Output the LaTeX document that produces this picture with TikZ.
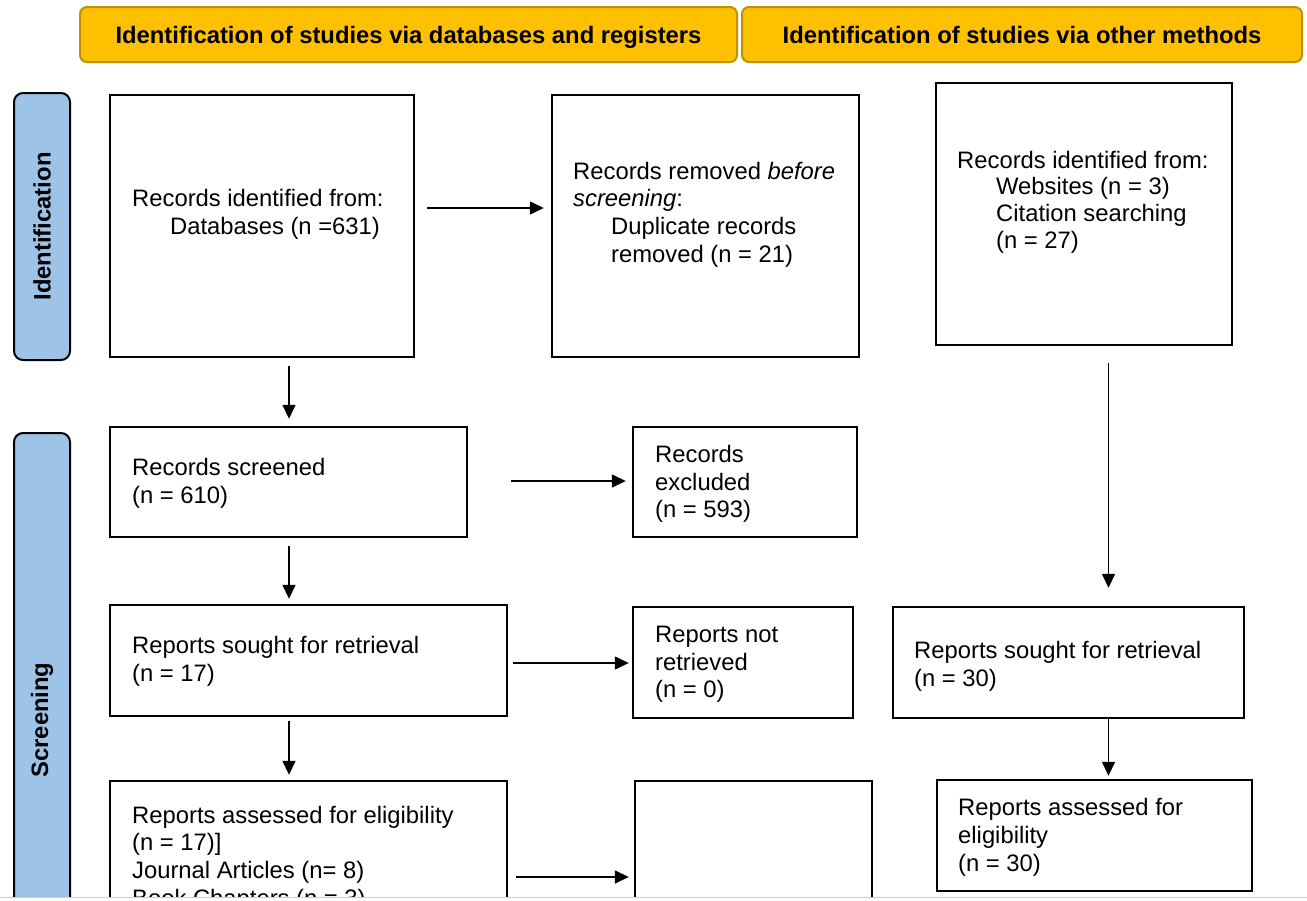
\documentclass[tikz,border=0pt]{standalone}
\usepackage{fontspec}
\setmainfont{Liberation Sans}
\usepackage{tikz}
\usetikzlibrary{arrows.meta, positioning}
\definecolor{headfill}{RGB}{255,192,0}
\definecolor{headline}{RGB}{191,144,0}
\definecolor{phasefill}{RGB}{157,195,230}
\definecolor{cutline}{RGB}{205,205,205}

\begin{document}
\begin{tikzpicture}[x=1pt, y=-1pt,
    every node/.style={font=\fontsize{23.8}{27.7}\selectfont},
    header/.style={draw=headline, fill=headfill, line width=2pt, rounded corners=7pt, inner sep=0pt, text height=20pt, text depth=2pt, font=\fontsize{23.8}{27.7}\selectfont\bfseries},
    phase/.style={draw=black, fill=phasefill, line width=2pt, rounded corners=9pt, inner sep=0pt, rotate=90, font=\fontsize{23.8}{27.7}\selectfont\bfseries},
    box/.style={draw=black, line width=2.4pt, inner sep=0pt},
    txt/.style={anchor=west, align=left, inner sep=0pt},
    arrow/.style={-{Triangle[length=14pt, width=13pt]}, line width=1.5pt}]
    \useasboundingbox (0,0) rectangle (1307,900);
    \begin{scope}
    \clip (0,0) rectangle (1307,896.5);
    % Headers
    \node[header, minimum width=657, minimum height=55] (dbhead) at (408.5,34.5) {Identification of studies via databases and registers};
    \node[header, minimum width=560, minimum height=55] (otherhead) at (1022,34.5) {Identification of studies via other methods};

    % Phases
    \node[phase, minimum width=267, minimum height=56] (idphase) at (42,226.5) {Identification};
    \node[phase, minimum width=574, minimum height=56] (scrphase) at (42,720) {Screening};

    % Boxes
    \node[box, minimum width=304, minimum height=262] (dbrec) at (262,226) {};
    \node[box, minimum width=307, minimum height=262] (dupl) at (705.5,226) {};
    \node[box, minimum width=296, minimum height=262] (otherrec) at (1084,214) {};
    \node[box, minimum width=357, minimum height=110] (screened) at (288.5,482) {};
    \node[box, minimum width=224, minimum height=110] (excl) at (745,482) {};
    \node[box, minimum width=397, minimum height=111] (sought) at (308.5,660.5) {};
    \node[box, minimum width=220, minimum height=111] (notret) at (743,662.5) {};
    \node[box, minimum width=397, minimum height=240] (assessed) at (308.5,901) {};
    \node[box, minimum width=237, minimum height=240] (reportsexcl) at (753.5,901) {};
    \node[box, minimum width=351, minimum height=111] (othersought) at (1068.5,662.5) {};
    \node[box, minimum width=315, minimum height=111] (otherassessed) at (1094.5,835.5) {};

    % Box texts
    \node[txt] (dbrectxt) at (132,214) {Records identified from:\\\hspace*{38pt}Databases (n =631)};
    \node[txt] (dupltxt) at (573,214.5) {Records removed \textit{before}\\\textit{screening}:\\\hspace*{38pt}Duplicate records\\\hspace*{38pt}removed (n = 21)};
    \node[txt, font=\fontsize{23.8}{26.7}\selectfont] (otherrectxt) at (957,202) {Records identified from:\\\hspace*{39pt}Websites (n = 3)\\\hspace*{39pt}Citation searching\\\hspace*{39pt}(n = 27)};
    \node[txt] (screenedtxt) at (132,483) {Records screened\\(n = 610)};
    \node[txt] (excltxt) at (655,484) {Records\\excluded\\(n = 593)};
    \node[txt] (soughttxt) at (132,661.5) {Reports sought for retrieval\\(n = 17)};
    \node[txt] (notrettxt) at (655,664.5) {Reports not\\retrieved\\(n = 0)};
    \node[txt] (assessedtxt) at (132,858.5) {Reports assessed for eligibility\\(n = 17)]\\Journal Articles (n= 8)\\Book Chapters (n = 3)};
    \node[txt] (othersoughttxt) at (914,666) {Reports sought for retrieval\\(n = 30)};
    \node[txt] (otherassessedtxt) at (958,837.5) {Reports assessed for\\eligibility\\(n = 30)};

    % Arrows
    \coordinate (lcol) at (289,0);
    \coordinate (rcol) at (1108.5,0);
    \draw[arrow, shorten <=12pt, shorten >=7pt] ([yshift=18pt]dbrec.east) -- ([yshift=18pt]dupl.west);
    \draw[arrow, shorten <=43pt, shorten >=6pt] ([yshift=1pt]screened.east) -- ([yshift=1pt]excl.west);
    \draw[arrow, shorten <=5pt, shorten >=3pt] ([yshift=-2.5pt]sought.east) -- ([yshift=-0.5pt]notret.west);
    \draw[arrow, shorten <=8pt, shorten >=5pt] ([yshift=24pt]assessed.east) -- ([yshift=24pt]reportsexcl.west);
    \draw[arrow, shorten <=8pt, shorten >=7pt] (lcol |- dbrec.south) -- (lcol |- screened.north);
    \draw[arrow, shorten <=8pt, shorten >=5pt] (lcol |- screened.south) -- (lcol |- sought.north);
    \draw[arrow, shorten <=4pt, shorten >=5pt] (lcol |- sought.south) -- (lcol |- assessed.north);
    \draw[arrow, shorten <=17pt, shorten >=18pt] (rcol |- otherrec.south) -- (rcol |- othersought.north);
    \draw[arrow, shorten >=3pt] (rcol |- othersought.south) -- (rcol |- otherassessed.north);
    \end{scope}

    % Cut edge
    \draw[cutline, line width=1.5pt] (0,897.5) -- (1307,897.5);
\end{tikzpicture}
\end{document}
